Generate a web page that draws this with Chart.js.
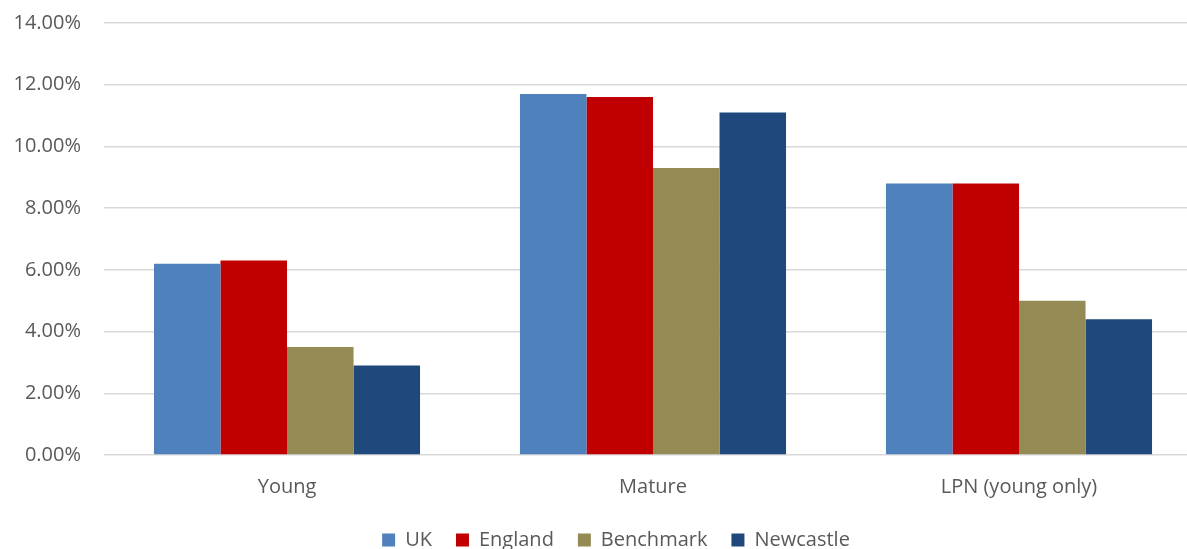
<!DOCTYPE html>
<html>
<head>
<meta charset="utf-8">
<script src="https://cdn.jsdelivr.net/npm/chart.js@4.4.0/dist/chart.umd.min.js"></script>
<style>
  html, body { margin: 0; padding: 0; background: #fff; overflow: hidden; width: 1187px; height: 549px; }
  #wrap { position: absolute; left: 0; top: 0; width: 1232px; height: 560px; }
</style>
</head>
<body>
<div id="wrap"><canvas id="c"></canvas></div>
<script>
const categories = ['Young', 'Mature', 'LPN (young only)'];
const seriesNames = ['UK', 'England', 'Benchmark', 'Newcastle'];
const ukValues = [6.2, 11.7, 8.8];
const englandValues = [6.3, 11.6, 8.8];
const benchmarkValues = [3.5, 9.3, 5.0];
const newcastleValues = [2.9, 11.1, 4.4];
const yTickLabels = ['0.00%', '2.00%', '4.00%', '6.00%', '8.00%', '10.00%', '12.00%', '14.00%'];
const colors = ['#4F81BD', '#C00000', '#948A54', '#1F497D'];

const values = [ukValues, englandValues, benchmarkValues, newcastleValues];
const FONT = '"Open Sans", "Liberation Sans", sans-serif';
const TXT = '#595959';

const legendShift = {
  id: 'legendShift',
  afterLayout(chart) {
    if (chart.legend) { chart.legend.right += 30; }
  }
};

new Chart(document.getElementById('c'), {
  type: 'bar',
  data: {
    labels: categories,
    datasets: seriesNames.map((n, i) => ({
      label: n,
      data: values[i],
      backgroundColor: colors[i],
      borderWidth: 0,
      categoryPercentage: 0.727,
      barPercentage: 1.0
    }))
  },
  plugins: [legendShift],
  options: {
    responsive: true,
    maintainAspectRatio: false,
    animation: false,
    layout: { padding: { top: 23, right: 30, left: 0, bottom: 0 } },
    plugins: {
      tooltip: { enabled: false },
      legend: {
        position: 'bottom',
        labels: {
          boxWidth: 13, boxHeight: 13, padding: 24,
          color: TXT, font: { family: FONT, size: 20 }
        }
      }
    },
    scales: {
      x: {
        grid: { display: false, drawTicks: false },
        border: { display: false },
        ticks: { color: TXT, font: { family: FONT, size: 20 }, padding: 20 },
        afterFit: s => { s.height = 51; s.paddingLeft = 0; s.paddingRight = 0; }
      },
      y: {
        min: 0, max: 14,
        grid: { color: '#d9d9d9', lineWidth: 1.5, drawTicks: false },
        border: { display: false },
        ticks: {
          stepSize: 2, padding: 23, color: TXT,
          font: { family: FONT, size: 20 },
          callback: (v, i) => yTickLabels[i]
        },
        afterFit: s => { s.width = 104; s.paddingTop = 0; s.paddingBottom = 0; }
      }
    }
  }
});
</script>
</body>
</html>
